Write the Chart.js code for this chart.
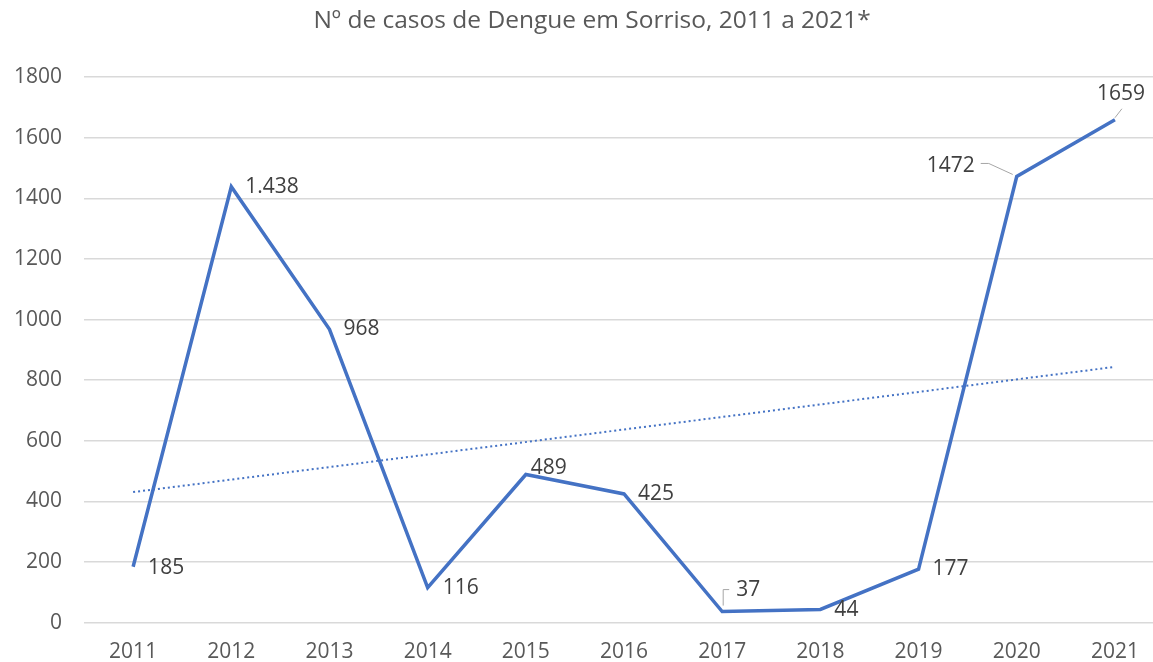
<!DOCTYPE html>
<html>
<head>
<meta charset="utf-8">
<script src="https://cdn.jsdelivr.net/npm/chart.js@4/dist/chart.umd.min.js"></script>
<style>
  html, body { margin: 0; padding: 0; background: #fff; overflow: hidden; }
  #box { width: 1166px; height: 662px; }
</style>
</head>
<body>
<div id="box"><canvas id="grafico"></canvas></div>
<script>
// dados
const titulo = 'Nº de casos de Dengue em Sorriso, 2011 a 2021*';
const anos = ['2011', '2012', '2013', '2014', '2015', '2016', '2017', '2018', '2019', '2020', '2021'];
const casos = [185, 1438, 968, 116, 489, 425, 37, 44, 177, 1472, 1659];
const rotulos = ['185', '1.438', '968', '116', '489', '425', '37', '44', '177', '1472', '1659'];
// linha de tendência (só as pontas)
const tendencia = [431, null, null, null, null, null, null, null, null, null, 844];
const eixoY = { min: 0, max: 1800, passo: 200 };

const azul = '#4472C4';
const fonte = "'Open Sans', sans-serif";

// onde fica cada rótulo em relação ao ponto (dx, dy, alinhamento, linha de chamada)
const posRotulos = [
  { dx: 15, dy: 1, al: 'left' },
  { dx: 14, dy: 0, al: 'left' },
  { dx: 14, dy: 0, al: 'left' },
  { dx: 15, dy: 0, al: 'left' },
  { dx: 5, dy: -7, al: 'left' },
  { dx: 14, dy: 0, al: 'left' },
  { dx: 14, dy: -22, al: 'left', guia: [[1, -6], [1, -22], [7, -22]] },
  { dx: 14, dy: 1, al: 'left' },
  { dx: 14, dy: 0, al: 'left' },
  { dx: -42, dy: -10, al: 'right', guia: [[-36, -13], [-28, -13], [-4, -2]] },
  { dx: 6, dy: -26, al: 'center', guia: [[0, -2], [7, -11]] }
];

const rotuloPlugin = {
  id: 'rotulos',
  afterDatasetsDraw(chart) {
    const ctx = chart.ctx;
    const meta = chart.getDatasetMeta(0);
    ctx.save();
    meta.data.forEach((p, i) => {
      const cfg = posRotulos[i];
      if (cfg.guia) {
        ctx.strokeStyle = '#a6a6a6';
        ctx.lineWidth = 1;
        ctx.beginPath();
        cfg.guia.forEach((g, k) => {
          if (k === 0) ctx.moveTo(p.x + g[0], p.y + g[1]);
          else ctx.lineTo(p.x + g[0], p.y + g[1]);
        });
        ctx.stroke();
      }
      ctx.fillStyle = '#404040';
      ctx.font = '21px ' + fonte;
      ctx.textAlign = cfg.al;
      ctx.textBaseline = 'middle';
      ctx.fillText(rotulos[i], p.x + cfg.dx, p.y + cfg.dy);
    });
    // título (o do Excel não fica centrado no canvas)
    ctx.fillStyle = '#595959';
    ctx.font = '24.5px ' + fonte;
    ctx.textAlign = 'center';
    ctx.textBaseline = 'middle';
    ctx.fillText(titulo, chart.chartArea.left + 508, 21);
    ctx.restore();
  }
};

new Chart(document.getElementById('grafico'), {
  type: 'line',
  data: {
    labels: anos,
    datasets: [
      {
        label: 'Casos',
        data: casos,
        borderColor: azul,
        borderWidth: 3.5,
        pointRadius: 0,
        tension: 0,
        fill: false
      },
      {
        label: 'Tendência',
        data: tendencia,
        borderColor: azul,
        borderWidth: 2,
        borderDash: [2, 3],
        pointRadius: 0,
        spanGaps: true,
        fill: false
      }
    ]
  },
  options: {
    responsive: true,
    maintainAspectRatio: false,
    animation: false,
    layout: { padding: { left: -8, right: 2, top: 77, bottom: -20 } },
    plugins: {
      legend: { display: false },
      tooltip: { enabled: false },
      title: { display: false }
    },
    scales: {
      x: {
        offset: true,
        grid: { display: false, drawTicks: false },
        border: { display: false },
        ticks: { color: '#595959', font: { family: fonte, size: 21 }, padding: 17, maxRotation: 0 }
      },
      y: {
        min: eixoY.min,
        max: eixoY.max,
        grid: { color: '#d9d9d9', lineWidth: 1.5, drawTicks: false },
        border: { display: false },
        ticks: {
          stepSize: eixoY.passo,
          color: '#595959',
          font: { family: fonte, size: 21 },
          padding: 22,
          callback: v => String(v)
        }
      }
    }
  },
  plugins: [rotuloPlugin]
});
</script>
</body>
</html>
